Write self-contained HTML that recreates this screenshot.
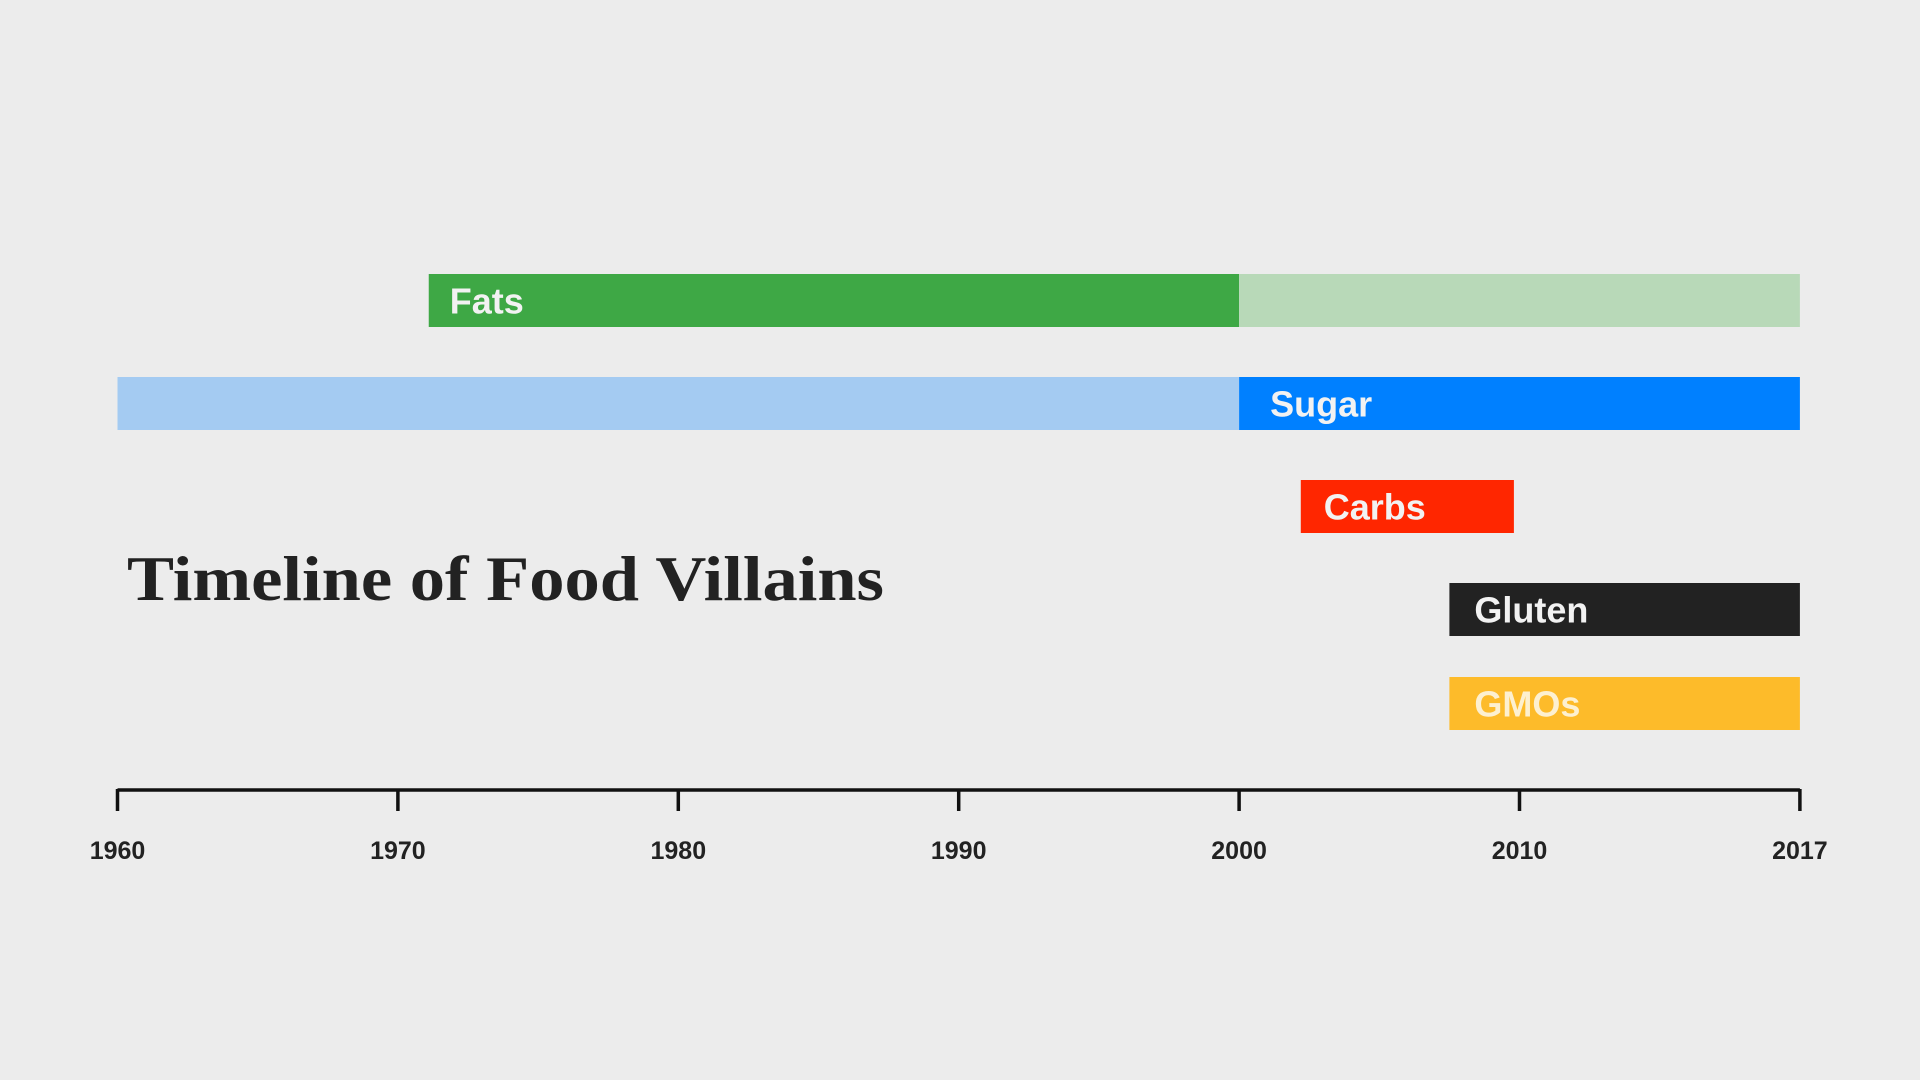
<!DOCTYPE html>
<html><head><meta charset="utf-8"><style>
html,body{margin:0;padding:0;background:#ececec;}
svg{display:block;}
</style></head><body>
<svg id="chart" width="1920" height="1080" xmlns="http://www.w3.org/2000/svg">
<rect width="1920" height="1080" fill="#ececec"/>
<text x="127" y="600" font-family="Liberation Serif, serif" font-weight="bold" font-size="64" textLength="757" lengthAdjust="spacingAndGlyphs" fill="#222">Timeline of Food Villains</text>
<g id="bars"></g>
<g id="axis"></g>
</svg>
<script>
const categories = ["Fats","Sugar","Carbs","Gluten","GMOs"];
const starts = [1971.1, 1960, 2002.2, 2007.5, 2007.5];
const splits = [2000, 2000, 2009.8, 2017, 2017];
const ends = [2017, 2017, 2009.8, 2017, 2017];
const darkFirst = [true, false, true, true, true];
const tickYears = [1960,1970,1980,1990,2000,2010,2017];

const NS="http://www.w3.org/2000/svg";
const x0=117.5, step=280.4;
// piecewise scale: tick years equally spaced
function xs(y){
  for(let i=0;i<tickYears.length-1;i++){
    const a=tickYears[i], b=tickYears[i+1];
    if(y<=b || i===tickYears.length-2){
      return x0 + step*(i + (y-a)/(b-a));
    }
  }
}
const rowTop = [274, 377, 480, 583, 677];
const barH = 53;
const dark = ["#3ea845","#0080ff","#ff2600","#222222","#fdbb2a"];
const light = ["#b8d9b8","#a4cbf2","#ffb0a0","#999999","#fde0a0"];
const labelColor = ["#f2f2f2","#f2f2f2","#f2f2f2","#f2f2f2","#fdf0d0"];
const labelOff = [21,31,23,25,25];

const bars=document.getElementById('bars');
function mk(tag, attrs, parent){const e=document.createElementNS(NS,tag);for(const k in attrs)e.setAttribute(k,attrs[k]);parent.appendChild(e);return e;}
categories.forEach((c,i)=>{
  const y=rowTop[i];
  const a=xs(starts[i]), m=xs(splits[i]), b=xs(ends[i]);
  const r1=mk('rect',{x:a,y:y,width:m-a,height:barH,fill:darkFirst[i]?dark[i]:light[i]},bars);
  
  
  if(b>m){
    const r2=mk('rect',{x:m,y:y,width:b-m,height:barH,fill:darkFirst[i]?light[i]:dark[i]},bars);
    
    
  }
  const lx = (darkFirst[i]?a:m) + labelOff[i];
  const t=mk('text',{x:lx,y:y+barH/2+13,'font-family':'Liberation Sans, sans-serif','font-weight':'bold','font-size':'36',fill:labelColor[i]},bars);
  t.textContent=c;
  
  
});
const axis=document.getElementById('axis');
const line=mk('line',{x1:x0,x2:xs(2017),y1:790,y2:790,stroke:'#111','stroke-width':3.5},axis);


tickYears.forEach(yr=>{
  const x=xs(yr);
  const tk=mk('line',{x1:x,x2:x,y1:789,y2:811,stroke:'#111','stroke-width':3.5},axis);
  
  
  const t=mk('text',{x:x,y:859,'text-anchor':'middle','font-family':'Liberation Sans, sans-serif','font-weight':'bold','font-size':'25',fill:'#222'},axis);
  t.textContent=yr;
  
  
});
</script>
</body></html>
